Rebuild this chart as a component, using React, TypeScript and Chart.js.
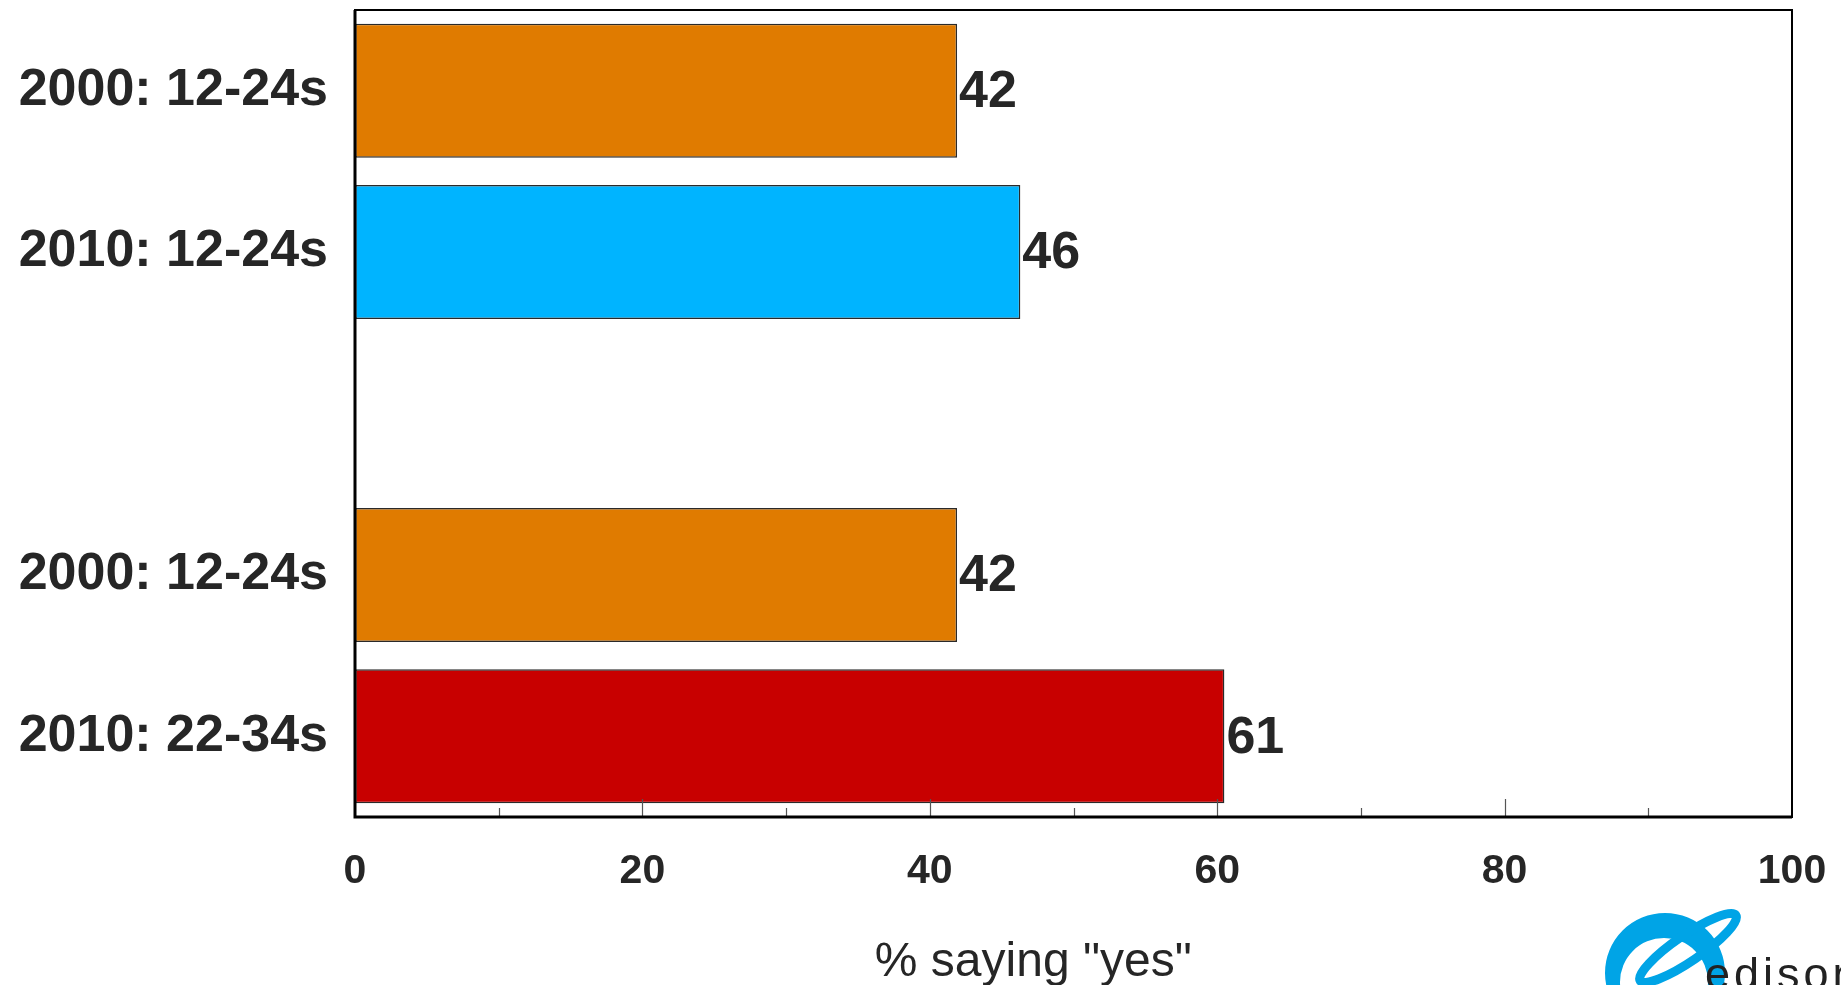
import React, { useEffect, useRef } from "react";
import { Chart, registerables } from "chart.js";

Chart.register(...registerables);

const categories = ["2000: 12-24s", "2010: 12-24s", "", "2000: 12-24s", "2010: 22-34s"];
const values = [41.9, 46.3, null, 41.9, 60.5];
const barColors = ["#E07B00", "#00B4FF", "#ffffff", "#E07B00", "#C80000"];
const majorTicks = [0, 20, 40, 60, 80, 100];
const minorTicks = [10, 30, 50, 70, 90];
const axisTitle = '% saying "yes"';
const logoText = "edison";

const FONT = "'Liberation Sans', Arial, sans-serif";
const TEXT = "#262626";

const overlayPlugin = {
  id: "overlay",
  afterDatasetsDraw(chart: any) {
    const ctx = chart.ctx;
    const area = chart.chartArea;
    const xs = chart.scales.x;
    // data labels
    const meta = chart.getDatasetMeta(0);
    ctx.save();
    ctx.font = `bold 52px ${FONT}`;
    ctx.fillStyle = TEXT;
    ctx.textAlign = "left";
    ctx.textBaseline = "middle";
    meta.data.forEach((bar: any, i: number) => {
      const v = values[i];
      if (v === null || v === undefined) return;
      ctx.fillText(String(Math.round(v)), bar.x + 2, bar.y + 2);
    });
    ctx.restore();
    // inward ticks
    ctx.save();
    ctx.strokeStyle = "#555";
    ctx.lineWidth = 1.2;
    majorTicks.forEach((t) => {
      if (t === 0 || t === 100) return;
      const x = Math.round(xs.getPixelForValue(t)) + 0.5;
      ctx.beginPath();
      ctx.moveTo(x, area.bottom);
      ctx.lineTo(x, area.bottom - 18);
      ctx.stroke();
    });
    minorTicks.forEach((t) => {
      const x = Math.round(xs.getPixelForValue(t)) + 0.5;
      ctx.beginPath();
      ctx.moveTo(x, area.bottom);
      ctx.lineTo(x, area.bottom - 9);
      ctx.stroke();
    });
    ctx.restore();
    // frame
    ctx.save();
    ctx.strokeStyle = "#000";
    ctx.lineWidth = 2;
    ctx.strokeRect(area.left, area.top, area.right - area.left, area.bottom - area.top);
    ctx.lineWidth = 3;
    ctx.beginPath();
    ctx.moveTo(area.left, area.top);
    ctx.lineTo(area.left, area.bottom);
    ctx.lineTo(area.right, area.bottom);
    ctx.stroke();
    ctx.restore();
  },
  afterDraw(chart: any) {
    const ctx = chart.ctx;
    const area = chart.chartArea;
    // axis title
    ctx.save();
    ctx.font = `48px ${FONT}`;
    ctx.fillStyle = TEXT;
    ctx.textAlign = "center";
    ctx.textBaseline = "alphabetic";
    ctx.fillText(axisTitle, area.left + (area.right - area.left) * 0.472, 976);
    ctx.restore();
    // logo
    ctx.save();
    ctx.fillStyle = "#00A4E6";
    ctx.beginPath();
    ctx.arc(1665, 973, 60, 0, Math.PI * 2);
    ctx.moveTo(1664 + 44, 982);
    ctx.arc(1664, 982, 44, 0, Math.PI * 2);
    ctx.fill("evenodd");
    ctx.strokeStyle = "#00A4E6";
    ctx.lineWidth = 9;
    ctx.beginPath();
    ctx.ellipse(1688, 948, 58, 13, -0.6, 0, Math.PI * 2);
    ctx.stroke();
    ctx.font = `45px ${FONT}`;
    ctx.fillStyle = "#222";
    ctx.textAlign = "left";
    (ctx as any).letterSpacing = "4px";
    ctx.fillText(logoText, 1705, 989);
    ctx.restore();
  },
};

function zeroPad(s: any) {
  s.paddingTop = 0;
  s.paddingBottom = 0;
  s.paddingLeft = 0;
  s.paddingRight = 0;
}

export default function App() {
  const ref = useRef<HTMLCanvasElement | null>(null);
  useEffect(() => {
    if (!ref.current) return;
    const chart = new Chart(ref.current, {
      type: "bar",
      data: {
        labels: categories,
        datasets: [
          {
            data: values as any,
            backgroundColor: barColors,
            borderColor: "#2a2a2a",
            borderWidth: 1.5,
            borderSkipped: false,
            barPercentage: 0.83,
            categoryPercentage: 1,
          },
        ],
      },
      options: {
        indexAxis: "y",
        animation: false,
        responsive: false,
        maintainAspectRatio: false,
        layout: { padding: { top: 10, right: 49, left: 0, bottom: 0 } },
        plugins: {
          legend: { display: false },
          tooltip: { enabled: false },
          title: { display: false },
        },
        scales: {
          x: {
            min: 0,
            max: 100,
            afterFit: (s: any) => {
              s.height = 168;
              zeroPad(s);
            },
            afterBuildTicks: (s: any) => {
              s.ticks = majorTicks.map((v) => ({ value: v }));
            },
            grid: { display: false, drawTicks: false },
            border: { display: false },
            ticks: {
              padding: 30,
              color: TEXT,
              font: { family: FONT, size: 41, weight: "bold" },
              maxRotation: 0,
            },
          },
          y: {
            afterFit: (s: any) => {
              s.width = 355;
              zeroPad(s);
            },
            grid: { display: false, drawTicks: false },
            border: { display: false },
            ticks: {
              padding: 27,
              color: TEXT,
              font: { family: FONT, size: 52, weight: "bold" },
            },
          },
        },
      },
      plugins: [overlayPlugin],
    });
    return () => chart.destroy();
  }, []);
  return (
    <div style={{ position: "absolute", left: 0, top: 0, width: 1841, height: 985, background: "#fff" }}>
      <canvas ref={ref} width={1841} height={985} style={{ width: 1841, height: 985, display: "block" }} />
    </div>
  );
}
